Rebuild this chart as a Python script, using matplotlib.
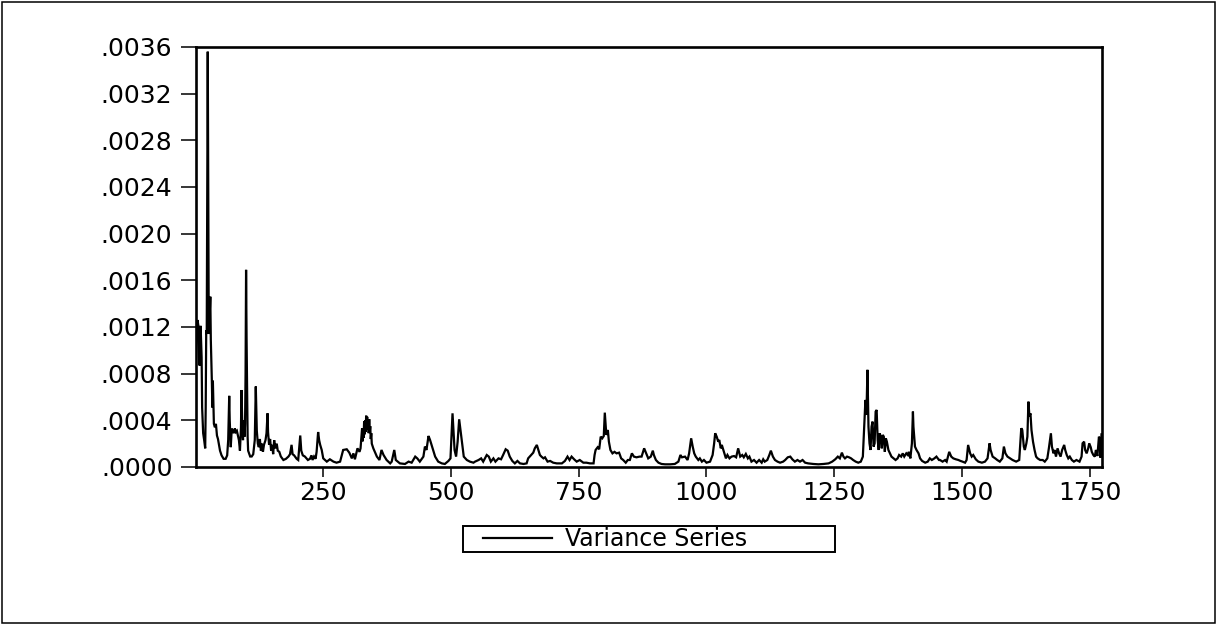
import numpy as np
import matplotlib
matplotlib.use("Agg")
import matplotlib.pyplot as plt
from matplotlib.ticker import FuncFormatter, FixedLocator
from matplotlib.patches import Rectangle
from matplotlib.legend_handler import HandlerLine2D

obs = [
    1, 4, 6, 8, 10, 12, 13, 15, 17, 19, 20, 21, 22, 24, 26, 27, 29, 30, 32, 33, 34, 36, 38, 40,
    42, 44, 46, 48, 51, 55, 59, 62, 64, 66, 67, 69, 71, 73, 75, 77, 79, 81, 83, 85, 87, 89, 90,
    92, 93, 94, 96, 97, 98, 99, 100, 102, 103, 107, 110, 113, 116, 118, 120, 122, 124, 126, 128,
    130, 132, 134, 137, 139, 141, 142, 144, 146, 148, 150, 152, 154, 156, 159, 161, 164, 167,
    172, 177, 182, 185, 188, 190, 193, 198, 201, 203, 205, 207, 210, 214, 220, 224, 227, 229,
    232, 235, 237, 240, 242,
    244, 247, 250, 257, 263, 270, 276, 283, 289, 296, 301, 306, 309, 312, 317, 321, 323,
    326, 327, 328, 329, 330, 331, 332, 333, 334, 335, 336, 337, 338, 339, 340, 341, 342, 343,
    344, 345, 348, 355, 360, 364, 368, 374, 381, 384, 389, 392, 400, 410, 417, 423, 430, 434,
    439, 446, 449, 452, 456, 459, 464, 469, 475, 482, 488, 495, 499, 503, 507, 510, 513, 516,
    519, 522, 525, 531, 537, 544,
    547, 554, 559, 563, 570, 574, 578, 583, 587, 593, 598, 602, 607, 611, 615, 620, 625, 630,
    635, 642, 648, 651, 657, 661, 664, 668, 671, 674, 677, 681, 684, 689, 694, 700, 707, 717,
    723, 728, 732, 736, 741, 746, 752, 759, 765, 772, 779, 781, 783, 787, 790, 793, 796, 799,
    801, 804, 807, 809, 812, 816, 820, 824, 829, 833, 837, 842, 846,
    850, 854, 858, 863, 869, 873, 878, 882, 886, 891, 895, 897, 901, 906, 912, 919, 929, 938,
    945, 949, 952, 958, 963, 966, 970, 973, 976, 979, 984, 987, 991, 995, 1000, 1007, 1012,
    1015, 1017, 1020, 1023, 1025, 1028, 1030, 1033, 1036, 1038, 1041, 1045, 1049, 1054, 1058,
    1062, 1066, 1070, 1073, 1077, 1081, 1084, 1088, 1093, 1098, 1103, 1108, 1111, 1114, 1119,
    1123, 1126, 1130, 1134, 1139, 1144, 1150,
    1154, 1159, 1164, 1168, 1173, 1178, 1183, 1188, 1193, 1199, 1209, 1219, 1229, 1239, 1246,
    1252, 1257, 1261, 1265, 1268, 1271, 1275, 1279, 1283, 1287, 1292, 1297, 1302, 1306, 1308,
    1311, 1313, 1315, 1317, 1319, 1321, 1323, 1325, 1327, 1329, 1331, 1333, 1335, 1337, 1339,
    1341, 1343, 1345, 1347, 1349, 1351, 1353, 1356, 1359, 1362, 1366, 1370, 1374, 1377, 1381,
    1384, 1387, 1391, 1394, 1396, 1399, 1402, 1404, 1405, 1408, 1411, 1415, 1418, 1422, 1428,
    1433, 1437, 1441, 1446, 1450, 1455,
    1457, 1462, 1467, 1470, 1475, 1479, 1483, 1488, 1493, 1497, 1501, 1506, 1509, 1512, 1516,
    1519, 1522, 1527, 1532, 1539, 1545, 1550, 1554, 1556, 1560, 1565, 1569, 1574, 1579, 1582,
    1585, 1589, 1594, 1599, 1606, 1612, 1616, 1618, 1621, 1623, 1626, 1628, 1630, 1632, 1634,
    1636, 1639, 1642, 1645, 1648, 1653, 1658, 1662, 1667, 1670, 1674, 1676, 1679, 1681, 1684,
    1687, 1690, 1693, 1696, 1700, 1702, 1705, 1708, 1711, 1715, 1719, 1724, 1730, 1734, 1736,
    1739, 1741, 1744, 1747, 1749, 1752, 1754, 1757, 1760, 1762, 1765, 1768, 1770, 1771, 1773,
]

variance_e4 = [
    9.4, 12.6, 12.0, 8.7, 12.1, 9.4, 5.1, 2.9, 2.3, 1.6, 5.1, 11.7, 11.4, 35.6, 11.4, 12.0, 14.6,
    10.9, 7.4, 5.1, 7.4, 3.7, 3.4, 3.7, 2.7, 2.4, 1.9, 1.4, 1.0, 0.7, 0.7, 1.0, 2.3, 6.1, 4.0,
    1.7, 3.3, 3.1, 2.9, 3.3, 3.0, 3.1, 2.7, 2.3, 1.4, 3.4, 6.6, 2.9, 2.3, 4.0, 2.6, 3.7, 8.0,
    16.9, 10.9, 2.6, 1.4, 0.9, 0.9, 1.1, 2.3, 6.9, 3.1, 2.0, 1.7, 2.4, 1.4, 2.0, 1.3, 1.9, 2.3,
    2.9, 4.6, 3.0, 1.9, 2.4, 1.4, 1.9, 1.1, 2.3, 1.6, 2.0, 1.4, 1.3, 0.9, 0.6, 0.7, 0.9, 1.1,
    1.9, 1.1, 1.0, 0.7, 0.6, 1.7, 2.7, 1.4, 1.0, 0.9, 0.6, 0.7, 1.0, 0.6, 0.9, 0.7, 1.3, 3.0,
    2.3,
    1.9, 1.46, 0.74, 0.46, 0.66, 0.46, 0.37, 0.46, 1.46, 1.52, 1.23, 0.74, 1.17, 0.66, 1.6,
    1.3, 1.6,
    3.3, 2.2, 3.0, 2.5, 3.9, 2.8, 4.0, 3.0, 4.4, 3.3, 4.3, 3.2, 4.0, 2.9, 4.1, 3.0, 3.5, 2.4,
    2.9, 2.0, 1.6, 0.89, 0.6, 1.46, 1.03, 0.6, 0.31, 0.46, 1.46, 0.6, 0.31, 0.26, 0.46, 0.37,
    0.89, 0.74, 0.46, 0.89, 1.75, 1.46, 2.66, 2.32, 1.6, 0.89, 0.46, 0.31, 0.26, 0.52, 0.74,
    4.6, 1.46, 0.89, 2.17, 4.09, 3.03, 2.03, 0.89, 0.6, 0.46, 0.37,
    0.46, 0.6, 0.74, 0.46, 1.03, 0.89, 0.46, 0.74, 0.46, 0.74, 0.66, 1.03, 1.52, 1.4, 0.89,
    0.52, 0.31, 0.52, 0.31, 0.26, 0.31, 0.74, 1.03, 1.23, 1.6, 1.89, 1.46, 1.03, 0.89, 0.74,
    0.83, 0.46, 0.52, 0.37, 0.31, 0.31, 0.52, 0.89, 0.6, 0.89, 0.66, 0.46, 0.6, 0.37, 0.37,
    0.31, 0.31, 1.03, 1.46, 1.69, 1.52, 2.6, 2.46, 2.66, 4.66, 2.75, 3.17, 2.17, 1.46, 1.17,
    1.3, 1.17, 1.23, 0.74, 0.6, 0.37, 0.6,
    0.6, 1.17, 0.89, 0.83, 0.89, 0.89, 1.6, 1.17, 0.74, 0.89, 1.4, 1.03, 0.6, 0.37, 0.26,
    0.23, 0.23, 0.26, 0.46, 1.03, 0.83, 0.89, 0.6, 1.17, 2.46, 1.75, 1.17, 0.89, 0.6, 0.74,
    0.46, 0.6, 0.37, 0.46, 1.03, 2.03, 2.89, 2.6, 2.17, 2.32, 1.6, 1.89, 1.46, 1.03, 0.74,
    1.03, 0.74, 0.89, 0.94, 0.83, 1.6, 0.89, 1.03, 0.83, 1.12, 0.74, 0.89, 0.46, 0.6, 0.37,
    0.6, 0.37, 0.66, 0.46, 0.6, 1.03, 1.4, 0.89, 0.6, 0.46, 0.37, 0.46,
    0.6, 0.83, 0.89, 0.66, 0.46, 0.6, 0.46, 0.6, 0.37, 0.31, 0.26, 0.23, 0.26, 0.31, 0.46,
    0.66, 0.89, 0.74, 1.23, 0.89, 0.74, 0.89, 0.83, 0.74, 0.6, 0.46, 0.37, 0.46, 0.89, 2.89,
    5.75, 4.46, 8.33, 3.46, 2.03, 1.46, 3.46, 3.89, 1.75, 2.03, 4.75, 4.89, 2.32, 1.46, 2.89,
    2.6, 1.6, 2.75, 2.6, 1.3, 2.46, 2.17, 1.46, 1.17, 0.89, 0.74, 0.6, 0.74, 1.03, 0.89,
    1.17, 0.89, 1.17, 1.03, 1.3, 0.74, 2.03, 4.75, 3.46, 1.75, 1.46, 1.17, 0.74, 0.52, 0.37,
    0.46, 0.74, 0.6, 0.74, 0.89, 0.6,
    0.6, 0.46, 0.6, 0.46, 1.3, 0.89, 0.74, 0.66, 0.6, 0.52, 0.46, 0.37, 0.6, 1.89, 1.17,
    0.89, 1.03, 0.66, 0.46, 0.37, 0.46, 0.74, 2.03, 1.46, 0.89, 0.74, 0.6, 0.46, 0.74, 1.75,
    1.17, 0.89, 0.74, 0.6, 0.46, 0.6, 3.32, 3.17, 1.75, 1.46, 2.03, 2.6, 5.6, 4.32, 4.6,
    3.17, 2.17, 1.46, 0.89, 0.74, 0.6, 0.6, 0.46, 0.74, 1.6, 2.89, 1.75, 1.17, 1.46, 0.89,
    1.6, 1.17, 0.89, 1.46, 1.89, 1.46, 1.03, 0.74, 0.89, 0.6, 0.46, 0.6, 0.46, 0.89, 2.03,
    2.17, 1.46, 1.17, 1.6, 2.03, 1.69, 1.3, 1.03, 0.89, 1.46, 0.94, 2.6, 2.32, 0.8, 2.8,
]

n_obs = 1774
series_label = "Variance Series"
y_ticks = [0.0000, 0.0004, 0.0008, 0.0012, 0.0016, 0.0020, 0.0024, 0.0028, 0.0032, 0.0036]
x_ticks = [250, 500, 750, 1000, 1250, 1500, 1750]

variance = np.array(variance_e4) * 1e-4

# ---- figure ----
W, H = 1217, 625
fig = plt.figure(figsize=(W / 100, H / 100), dpi=100)
plt.rcParams['font.family'] = ['DejaVu Sans']

ax = fig.add_axes([196 / W, 1 - 467 / H, (1102 - 196) / W, (467 - 47) / H])
line, = ax.plot(obs, variance, color='black', lw=1.6, solid_joinstyle='miter')

ax.set_xlim(1, n_obs)
ax.set_ylim(0, 0.0036)
ax.yaxis.set_major_locator(FixedLocator(y_ticks))
ax.xaxis.set_major_locator(FixedLocator(x_ticks))
ax.yaxis.set_major_formatter(FuncFormatter(lambda v, _: ('%.4f' % v)[1:]))
ax.xaxis.set_major_formatter(FuncFormatter(lambda v, _: '%d' % v))

for s in ax.spines.values():
    s.set_linewidth(1.9)
ax.tick_params(axis='y', direction='out', length=11, width=1.1, pad=6, labelsize=18,
               right=False)
ax.tick_params(axis='x', direction='out', length=7, width=1.1, pad=3, labelsize=18,
               top=False)

leg = fig.legend([line], [series_label], loc='center',
                 bbox_to_anchor=(463 / W, 1 - 539 / H, 372 / W, 0),
                 bbox_transform=fig.transFigure, mode='expand', borderaxespad=0,
                 fontsize=17, handlelength=3.7, handletextpad=0.55,
                 handler_map={line: HandlerLine2D(xpad=0.8)},
                 borderpad=0.05, fancybox=False, framealpha=1, edgecolor='black')
leg.get_frame().set_linewidth(1.4)

# outer border of the chart
fig.patches.append(Rectangle((2 / W, 1 - 622.5 / H), (1215 - 2) / W, (622.5 - 1.5) / H,
                             transform=fig.transFigure, fill=False,
                             edgecolor='black', lw=1.1))

fig.savefig('out.png', dpi=100)
